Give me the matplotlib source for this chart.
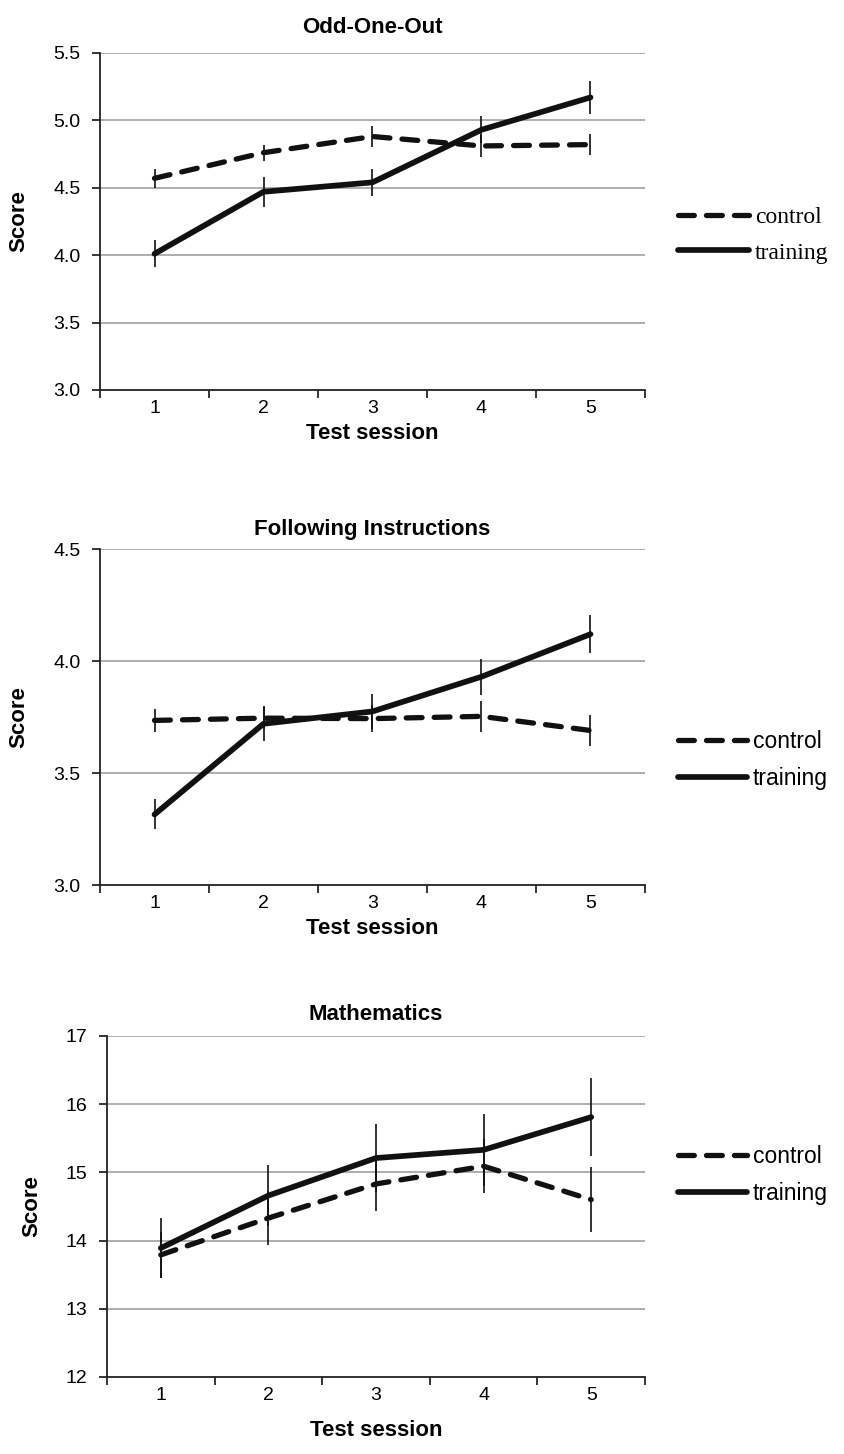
import numpy as np
import matplotlib.pyplot as plt
from matplotlib.ticker import FixedLocator

plt.rcParams['font.family'] = ['Liberation Sans', 'DejaVu Sans']

# --- Data ---
sessions = [1, 2, 3, 4, 5]

odd_control = [4.57, 4.76, 4.88, 4.81, 4.82]
odd_control_err = [0.07, 0.06, 0.08, 0.08, 0.08]
odd_training = [4.01, 4.47, 4.54, 4.93, 5.17]
odd_training_err = [0.10, 0.11, 0.10, 0.10, 0.12]

fol_control = [3.735, 3.745, 3.743, 3.753, 3.69]
fol_control_err = [0.05, 0.05, 0.06, 0.07, 0.07]
fol_training = [3.315, 3.72, 3.775, 3.93, 4.12]
fol_training_err = [0.067, 0.078, 0.08, 0.08, 0.085]

math_control = [13.79, 14.33, 14.83, 15.09, 14.60]
math_control_err = [0.34, 0.40, 0.40, 0.40, 0.48]
math_training = [13.89, 14.66, 15.21, 15.33, 15.81]
math_training_err = [0.44, 0.45, 0.50, 0.53, 0.57]

panels = [
    dict(title='Odd-One-Out', ylim=(3.0, 5.5), step=0.5, fmt='{:.1f}',
         control=odd_control, cerr=odd_control_err,
         training=odd_training, terr=odd_training_err,
         rect=[0.1185, 0.7318, 0.6457, 0.2318], leg_y=0.46, leg_x=1.044,
         title_y=1.059, xlab_y=-0.098, ylab_x=-0.13,
         leg_font=['Liberation Serif', 'DejaVu Serif'], leg_size=17),
    dict(title='Following Instructions', ylim=(3.0, 4.5), step=0.5, fmt='{:.1f}',
         control=fol_control, cerr=fol_control_err,
         training=fol_training, terr=fol_training_err,
         rect=[0.1185, 0.3913, 0.6457, 0.2311], leg_y=0.372, leg_x=1.044,
         title_y=1.042, xlab_y=-0.098, ylab_x=-0.13,
         leg_font=['Liberation Sans', 'DejaVu Sans'], leg_size=16.5),
    dict(title='Mathematics', ylim=(12, 17), step=1, fmt='{:.0f}',
         control=math_control, cerr=math_control_err,
         training=math_training, terr=math_training_err,
         rect=[0.1268, 0.053, 0.6374, 0.2345], leg_y=0.592, leg_x=1.045,
         title_y=1.047, xlab_y=-0.126, ylab_x=-0.12,
         leg_font=['Liberation Sans', 'DejaVu Sans'], leg_size=16.5),
]

fig = plt.figure(figsize=(8.44, 14.54), dpi=100)

for p in panels:
    ax = fig.add_axes(p['rect'])
    lo, hi = p['ylim']
    yt = np.arange(lo, hi + p['step'] / 2, p['step'])

    # horizontal grid lines
    for y in yt[1:]:
        ax.axhline(y, color='#a8a8a8', lw=1.3, zorder=0)

    # error bars, no caps
    ax.errorbar(sessions, p['control'], yerr=p['cerr'], fmt='none',
                ecolor='#111111', elinewidth=1.2, capsize=0, zorder=3)
    ax.errorbar(sessions, p['training'], yerr=p['terr'], fmt='none',
                ecolor='#111111', elinewidth=1.2, capsize=0, zorder=3)

    ax.plot(sessions, p['control'], color='#111111', lw=3.8,
            dashes=(3.0, 2.3), dash_capstyle='round',
            label='control', zorder=4)
    ax.plot(sessions, p['training'], color='#111111', lw=4.1,
            solid_capstyle='round', label='training', zorder=4)

    ax.set_xlim(0.5, 5.5)
    ax.set_ylim(lo, hi)
    ax.set_yticks(yt)
    ax.set_yticklabels([p['fmt'].format(v) for v in yt], fontsize=14)
    ax.set_xticks(sessions)
    ax.set_xticklabels([str(s) for s in sessions], fontsize=14)
    ax.tick_params(axis='x', which='major', length=0, pad=7)
    ax.xaxis.set_minor_locator(FixedLocator(np.arange(0.5, 5.6, 1.0)))
    ax.tick_params(axis='x', which='minor', length=5.5, width=1.1, direction='out')
    ax.tick_params(axis='y', length=6, width=1.1, direction='out', pad=8)

    for s in ['top', 'right']:
        ax.spines[s].set_visible(False)
    for s in ['left', 'bottom']:
        ax.spines[s].set_linewidth(1.3)
        ax.spines[s].set_color('#222222')

    ax.set_title(p['title'], fontsize=16, fontweight='bold', y=p['title_y'], pad=0)
    ax.set_xlabel('Test session', fontsize=16, fontweight='bold')
    ax.xaxis.set_label_coords(0.5, p['xlab_y'])
    ax.set_ylabel('Score', fontsize=16, fontweight='bold')
    ax.yaxis.set_label_coords(p['ylab_x'], 0.5)

    ax.legend(loc='center left', bbox_to_anchor=(p['leg_x'], p['leg_y']),
              frameon=False, handlelength=3.0, handletextpad=0.25,
              labelspacing=0.6, borderaxespad=0,
              prop={'family': p['leg_font'], 'size': p['leg_size']})

fig.savefig('out.png', dpi=100)
